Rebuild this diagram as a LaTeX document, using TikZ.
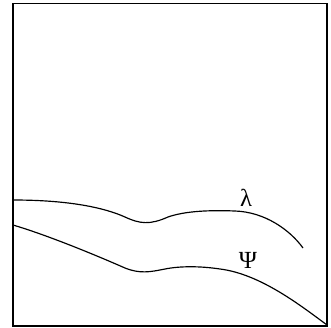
\documentclass[tikz,border=0pt]{standalone}
\usepackage{fontspec}
\newfontfamily\greekfont{Liberation Serif}
\begin{document}
\begin{tikzpicture}[x=0.03cm,y=-0.03cm,line width=1pt]
\useasboundingbox (0,0) rectangle (331,327);
\draw (13,3.5) rectangle (327,326);
% upper curve
\draw (13,200) .. controls (70,200) and (105,208) .. (125,217)
  .. controls (140,224) and (150,225) .. (168,217)
  .. controls (185,211) and (210,210) .. (235,211)
  .. controls (265,212) and (290,230) .. (303,248);
% lower curve
\draw (13,225) .. controls (50,236) and (100,257) .. (125,268)
  .. controls (140,274) and (150,272) .. (165,269)
  .. controls (180,266) and (200,266) .. (220,269)
  .. controls (260,274) and (300,305) .. (327,325);
\node (lambda) at (246,198) {\greekfont\fontsize{21}{24}\selectfont λ};
\node (psi) at (248,260) {\greekfont\fontsize{21}{24}\selectfont Ψ};
\end{tikzpicture}
\end{document}
